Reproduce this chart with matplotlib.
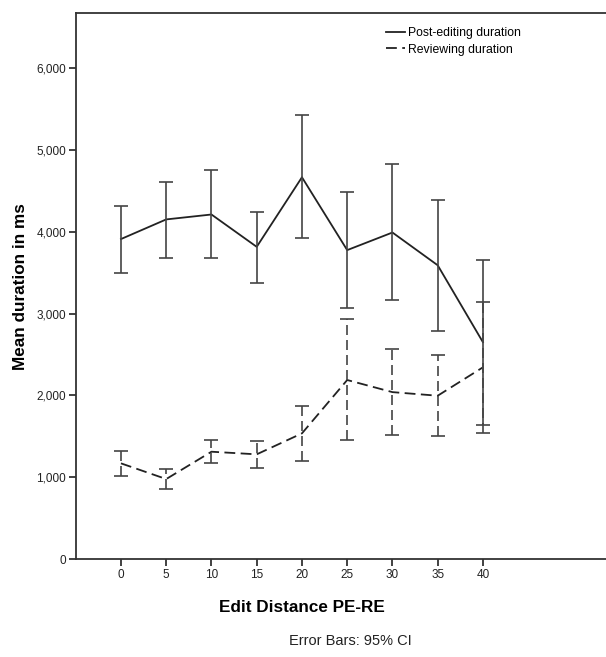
import matplotlib.pyplot as plt
from matplotlib.ticker import FuncFormatter

plt.rcParams['font.family'] = ['Liberation Sans', 'DejaVu Sans']

dist = [0, 5, 10, 15, 20, 25, 30, 35, 40]

pe_mean = [3910, 4150, 4210, 3815, 4665, 3775, 3990, 3590, 2650]
pe_low = [3496, 3684, 3676, 3370, 3920, 3072, 3162, 2791, 1638]
pe_high = [4315, 4612, 4756, 4238, 5428, 4483, 4825, 4389, 3655]

re_mean = [1170, 978, 1312, 1280, 1536, 2188, 2040, 1996, 2343]
re_low = [1011, 852, 1170, 1109, 1198, 1450, 1516, 1504, 1544]
re_high = [1324, 1097, 1455, 1443, 1874, 2930, 2563, 2494, 3146]

fig = plt.figure(figsize=(6.06, 6.57), dpi=100)
ax = fig.add_axes([0.1254, 0.149, 0.8746, 0.831])

col = '#222222'
ecol = '#444444'

pe_err = [[m - l for m, l in zip(pe_mean, pe_low)], [h - m for m, h in zip(pe_mean, pe_high)]]
re_err = [[m - l for m, l in zip(re_mean, re_low)], [h - m for m, h in zip(re_mean, re_high)]]

ax.plot(dist, pe_mean, color=col, lw=1.3, label='Post-editing duration')
ax.plot(dist, re_mean, color=col, lw=1.3, dashes=(6, 3), label='Reviewing duration')

e1 = ax.errorbar(dist, pe_mean, yerr=pe_err, fmt='none', ecolor=ecol, elinewidth=1.2,
                 capsize=4.7, capthick=1.2)
e2 = ax.errorbar(dist, re_mean, yerr=re_err, fmt='none', ecolor=ecol, elinewidth=1.2,
                 capsize=4.7, capthick=1.2)
for lc in e2[2]:
    lc.set_linestyle((0, (6, 3)))

ax.set_xlim(-4.97, 53.6)
ax.set_ylim(0, 6670)
ax.set_xticks(dist)
ax.set_yticks([0, 1000, 2000, 3000, 4000, 5000, 6000])
ax.yaxis.set_major_formatter(FuncFormatter(lambda v, p: f'{int(v):,}'))

for s in ['left', 'bottom', 'top']:
    ax.spines[s].set_color('#333333')
    ax.spines[s].set_linewidth(1.3)
ax.spines['right'].set_visible(False)
ax.tick_params(direction='out', length=5, width=1.3, color='#333333',
               labelsize=8.5, labelcolor='#222222', pad=2)

ax.set_xlabel('Edit Distance PE-RE', fontsize=12.3, fontweight='bold')
ax.xaxis.set_label_coords(20, -0.074, transform=ax.get_xaxis_transform())
ax.set_ylabel('Mean duration in ms', fontsize=12.3, fontweight='bold', labelpad=6)

ax.legend(loc='upper left', bbox_to_anchor=(0.575, 0.983), frameon=False, fontsize=8.8,
          handlelength=1.6, handletextpad=0.2, labelspacing=0.35, borderaxespad=0)

fig.text(0.578, 0.024, 'Error Bars: 95% CI', ha='center', va='center', fontsize=10.5, color='#222222')

fig.savefig('out.png', dpi=100)
